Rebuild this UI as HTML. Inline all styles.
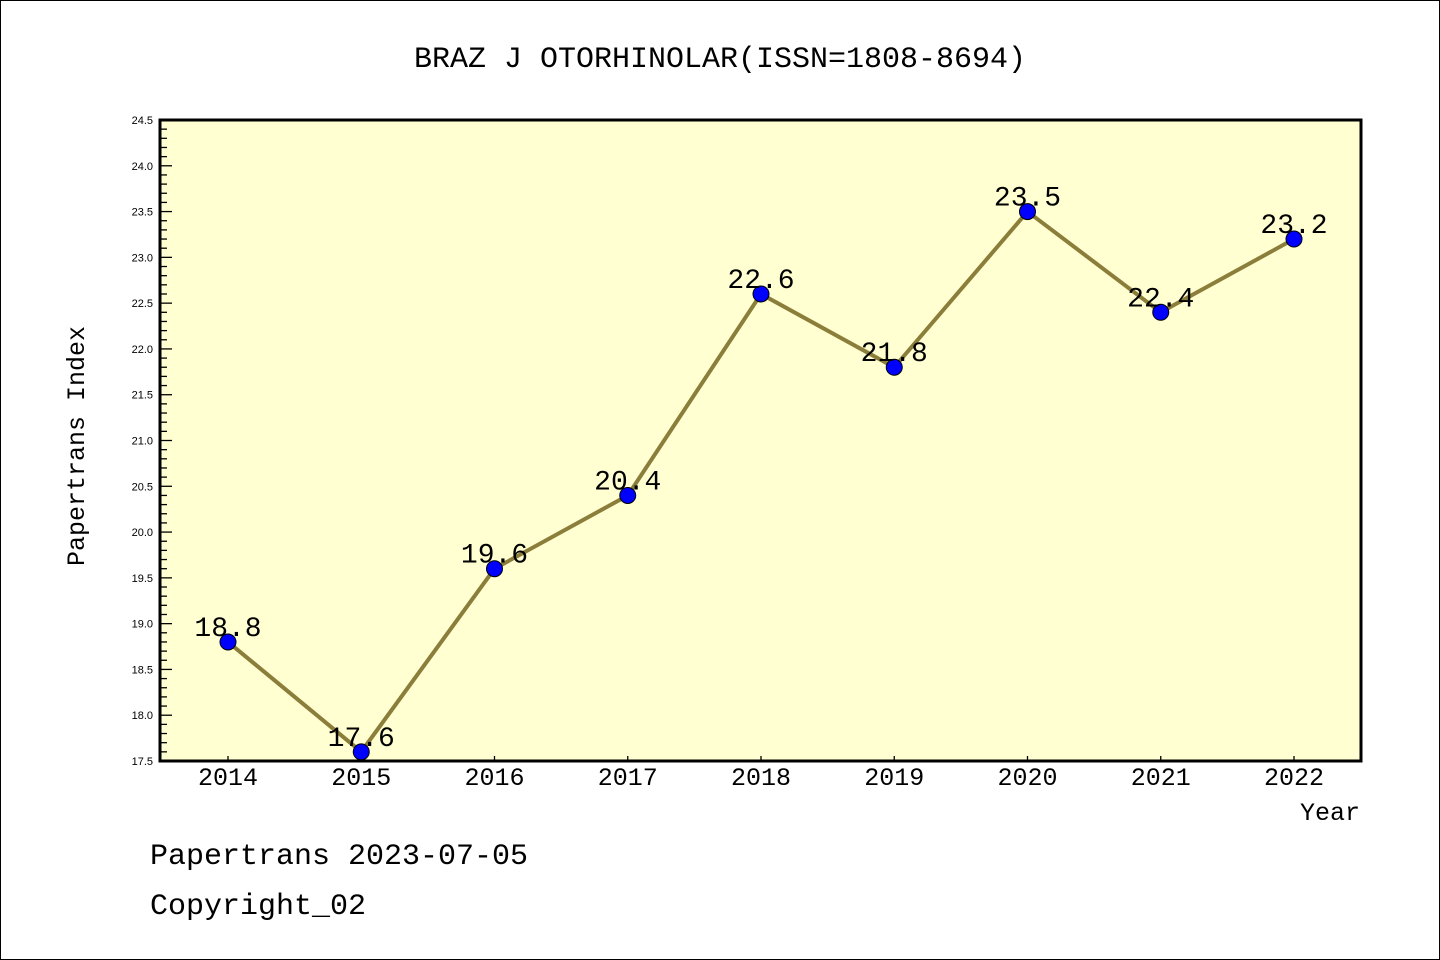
<!DOCTYPE html>
<html><head><meta charset="utf-8"><style>
body{margin:0;background:#fff;}
svg{display:block;font-family:"Liberation Mono","Noto Sans CJK SC",monospace;}
</style></head><body>
<svg id="chart" width="1440" height="960" xmlns="http://www.w3.org/2000/svg">
<rect x="0.5" y="0.5" width="1439" height="959" fill="#fff" stroke="#000"/>
<text x="720" y="67" font-size="30" text-anchor="middle">BRAZ J OTORHINOLAR(ISSN=1808-8694)</text>
<rect x="160" y="120" width="1201" height="641" fill="#ffffd2"/>
<g id="yaxis"></g>
<g id="xaxis"></g>
<g id="series"></g>
<rect x="160" y="120" width="1201" height="641" fill="none" stroke="#000" stroke-width="3"/>
<text transform="translate(84,446) rotate(-90)" font-size="25" text-anchor="middle">Papertrans Index</text>
<text x="1360" y="820" font-size="25" text-anchor="end">Year</text>
<text x="150" y="864" font-size="30">Papertrans 2023-07-05</text>
<text x="150" y="914" font-size="30">Copyright_02</text>
</svg>
<script>
const years=[2014,2015,2016,2017,2018,2019,2020,2021,2022];
const values=[18.8,17.6,19.6,20.4,22.6,21.8,23.5,22.4,23.2];
const yTicks=["17.5","18.0","18.5","19.0","19.5","20.0","20.5","21.0","21.5","22.0","22.5","23.0","23.5","24.0","24.5"];
const NS="http://www.w3.org/2000/svg";
const yMin=17.5,yMax=24.5,plotTop=120,plotBot=761,plotLeft=160;
function ys(v){return plotBot-(v-yMin)/(yMax-yMin)*(plotBot-plotTop);}
function xs(i){return 228+i*133.25;}
function mk(tag,attrs,parent,txt){const e=document.createElementNS(NS,tag);for(const k in attrs)e.setAttribute(k,attrs[k]);if(txt!==undefined)e.textContent=txt;parent.appendChild(e);return e;}
const ya=document.getElementById('yaxis');
for(let k=0;k<=70;k++){const v=yMin+k*0.1;const y=ys(v);const major=k%5===0;
 const t=mk('line',{x1:plotLeft,x2:plotLeft+(major?12:7),y1:y,y2:y,stroke:'#000','stroke-width':1.3},ya);
 
 }
yTicks.forEach(s=>{const t=mk('text',{x:153,y:ys(parseFloat(s))+4,'font-size':11,'text-anchor':'end','font-family':'"Liberation Sans",sans-serif'},ya,s);
 
 });
const xa=document.getElementById('xaxis');
years.forEach((yr,i)=>{const x=xs(i);
 const t=mk('line',{x1:x,x2:x,y1:plotBot,y2:plotBot-5,stroke:'#000','stroke-width':1.3},xa);
 
 
 const l=mk('text',{x:x,y:785,'font-size':25,'text-anchor':'middle'},xa,String(yr));
 
 });
const se=document.getElementById('series');
const pts=values.map((v,i)=>xs(i)+','+ys(v)).join(' ');
const pl=mk('polyline',{points:pts,fill:'none',stroke:'#8b7d3a','stroke-width':4},se);


values.forEach((v,i)=>{
 const c=mk('circle',{cx:xs(i),cy:ys(v),r:8,fill:'#0000ff',stroke:'#000','stroke-width':1},se);
 
 
 const l=mk('text',{x:xs(i),y:ys(v)-6,'font-size':28,'text-anchor':'middle'},se,v.toFixed(1));
 
 });
</script>
</body></html>
